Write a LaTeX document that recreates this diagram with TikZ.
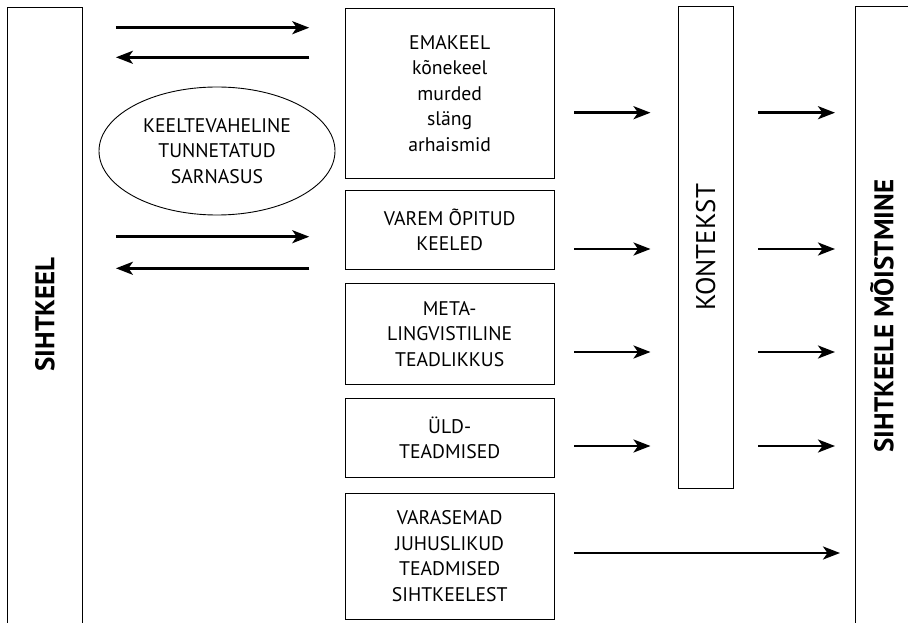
\documentclass[tikz,border=0pt]{standalone}
\usepackage{fontspec}
\setmainfont{PT Sans}
\usetikzlibrary{arrows.meta,shapes.geometric,positioning}

\begin{document}
\begin{tikzpicture}[x=1pt,y=-1pt,
    box/.style={draw, line width=0.9pt, align=center, inner sep=0pt,
          minimum width=209pt, font=\fontsize{19.7}{25.5}\selectfont},
    arr/.style={-{Stealth[length=17pt,width=13pt,inset=4.5pt]},
          line width=2.6pt},
    biglabel/.style={rotate=90, font=\fontsize{27}{30}\selectfont\bfseries}]
    \useasboundingbox (0,0) rectangle (908,623);
    % the two outer columns run off the page
    \node[box, anchor=north west, minimum width=75pt,
          minimum height=650pt] (sihtkeel) at (7.3,7.3) {};
    \node[biglabel] (sihtkeeltxt) at (45,314.5) {SIHTKEEL};
    \node[box, anchor=north west, minimum width=80pt,
          minimum height=650pt] (moistmine) at (855,6) {};
    \node[biglabel] (moistminetxt) at (882,316) {SIHTKEELE MÕISTMINE};
    % sources
    \node[box, minimum height=170pt] (emakeel) at (449.7,93.3)
          {EMAKEEL\\kõnekeel\\murded\\släng\\arhaismid};
    \node[box, minimum height=78.6pt] (varem) at (449.7,230)
          {VAREM ÕPITUD\\KEELED};
    \node[box, minimum height=100.7pt] (meta) at (449.7,333.7)
          {META-\\LINGVISTILINE\\TEADLIKKUS};
    \node[box, minimum height=79pt] (yld) at (449.7,437.8)
          {ÜLD-\\TEADMISED};
    \node[box, minimum height=125.7pt] (varasemad) at (449.7,556.2)
          {VARASEMAD\\JUHUSLIKUD\\TEADMISED\\SIHTKEELEST};
    \node[box, ellipse, minimum width=236pt, minimum height=128pt]
          (sarnasus) at (217,151)
          {KEELTEVAHELINE\\TUNNETATUD\\SARNASUS};
    \node[box, minimum width=54.5pt, minimum height=481.3pt]
          (kontekst) at (705.7,247.3) {};
    \node[rotate=90, font=\fontsize{27}{30}\selectfont]
          (kontekstxt) at (kontekst.center) {KONTEKST};
    % left arrows
    \draw[arr, shorten <=32.7pt, shorten >=35.5pt]
          (sihtkeel.east |- 0,27.7) -- (emakeel.west |- 0,27.7);
    \draw[arr, shorten <=35.5pt, shorten >=32.7pt]
          (emakeel.west |- 0,57.3) -- (sihtkeel.east |- 0,57.3);
    \draw[arr, shorten <=32.7pt, shorten >=35.5pt]
          (sihtkeel.east |- 0,236.7) -- (varem.west |- 0,236.7);
    \draw[arr, shorten <=35.5pt, shorten >=32.7pt]
          (varem.west |- 0,268.3) -- (sihtkeel.east |- 0,268.3);
    % into the context
    \draw[arr, shorten <=19.7pt, shorten >=27.5pt]
          (emakeel.east |- 0,112.7) -- (kontekst.west |- 0,112.7);
    \draw[arr, shorten <=19.7pt, shorten >=27.5pt]
          (varem.east |- 0,249) -- (kontekst.west |- 0,249);
    \draw[arr, shorten <=19.7pt, shorten >=27.5pt]
          (meta.east |- 0,352) -- (kontekst.west |- 0,352);
    \draw[arr, shorten <=19.7pt, shorten >=27.5pt]
          (yld.east |- 0,446) -- (kontekst.west |- 0,446);
    % out to understanding
    \draw[arr, shorten <=24.7pt, shorten >=20pt]
          (kontekst.east |- 0,112.7) -- (moistmine.west |- 0,112.7);
    \draw[arr, shorten <=24.7pt, shorten >=20pt]
          (kontekst.east |- 0,249) -- (moistmine.west |- 0,249);
    \draw[arr, shorten <=24.7pt, shorten >=20pt]
          (kontekst.east |- 0,352) -- (moistmine.west |- 0,352);
    \draw[arr, shorten <=24.7pt, shorten >=20pt]
          (kontekst.east |- 0,446) -- (moistmine.west |- 0,446);
    \draw[arr, shorten <=19.7pt, shorten >=15pt]
          (varasemad.east |- 0,553) -- (moistmine.west |- 0,553);
\end{tikzpicture}
\end{document}
